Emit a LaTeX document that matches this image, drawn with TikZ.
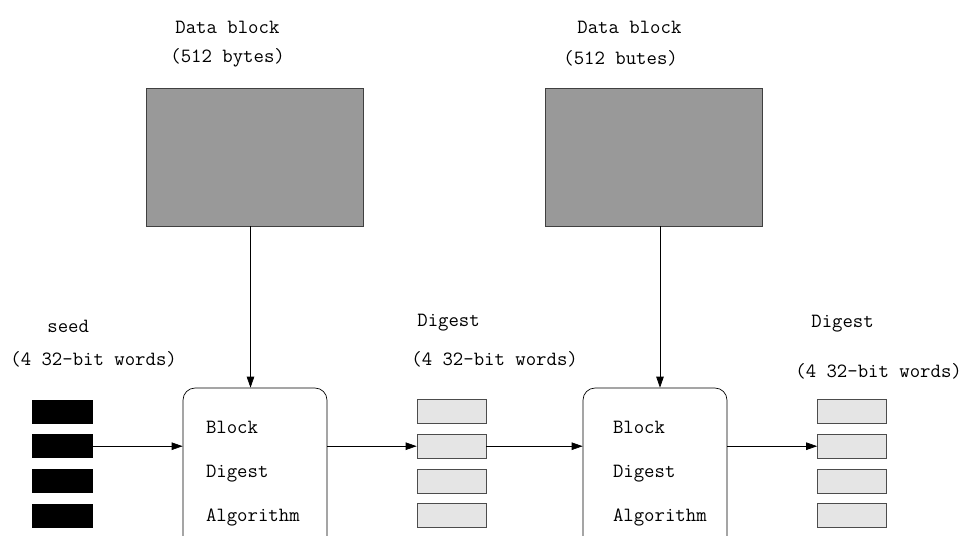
\documentclass[tikz,border=0pt]{standalone}
\usetikzlibrary{arrows.meta,positioning}
\definecolor{blockgray}{RGB}{153,153,153}
\definecolor{wordgray}{RGB}{229,229,229}
\tikzset{
 datablk/.style={rectangle,draw=black!75,fill=blockgray,minimum width=4.34cm,minimum height=2.76cm,inner sep=0},
 algo/.style={rectangle,rounded corners=0.24cm,draw=black,align=left,text width=1.96cm,inner xsep=0.46cm,inner ysep=0,minimum width=2.88cm,minimum height=3.44cm,font=\ttfamily\fontsize{11.5}{25}\selectfont},
 seedword/.style={rectangle,fill=black,minimum width=1.22cm,minimum height=0.48cm,inner sep=0},
 digword/.style={rectangle,draw=black!70,fill=wordgray,minimum width=1.38cm,minimum height=0.48cm,inner sep=0},
 lbl/.style={anchor=west,inner sep=0,font=\ttfamily\fontsize{11.5}{13}\selectfont},
 arrow/.style={-{Triangle[length=2.2mm,width=1.5mm]},draw=black}}

\begin{document}
\begin{tikzpicture}[x=0.02cm,y=-0.02cm]
\useasboundingbox (0,0) rectangle (967,535);
\clip (0,0) rectangle (967,535);
% data blocks and their captions
\node[datablk] (data1) at (254.5,157) {};
\node[datablk] (data2) at (653.5,157) {};
\node[lbl] (d1top) at (175,27) {Data block};
\node[lbl] (d1bot) at (170,58) {(512 bytes)};
\node[lbl] (d2top) at (577,27) {Data block};
\node[lbl] (d2bot) at (563,58) {(512 butes)};
% block digest algorithm boxes
\node[algo] (algo1) at (255,474) {Block\\Digest\\Algorithm};
\node[algo,inner xsep=0.6cm,text width=1.68cm] (algo2) at (655,474) {Block\\Digest\\Algorithm};
% seed and digest words
\foreach \i in {1,...,4}{
 \node[seedword] (seed\i) at (62.5,{376.8+34.7*\i}) {};
 \node[digword] (dga\i) at (451.5,{376.8+34.7*\i}) {};
 \node[digword] (dgb\i) at (852,{376.8+34.7*\i}) {};
}
\node[lbl] (seedtop) at (47,326) {seed};
\node[lbl] (seedbot) at (10,359) {(4 32-bit words)};
\node[lbl] (dgatop) at (417,323) {Digest};
\node[lbl] (dgabot) at (411,359) {(4 32-bit words)};
\node[lbl] (dgbtop) at (811,324) {Digest};
\node[lbl] (dgbbot) at (795,371) {(4 32-bit words)};
% connectors
\draw[arrow] ([xshift=-0.08cm]data1.south) -- ([xshift=-0.08cm]data1.south |- algo1.north);
\draw[arrow] ([xshift=0.13cm]data2.south) -- ([xshift=0.13cm]data2.south |- algo2.north);
\draw[arrow] (seed2.east) -- (seed2.east -| algo1.west);
\draw[arrow] (algo1.east |- dga2) -- (dga2.west);
\draw[arrow] (dga2.east) -- (dga2.east -| algo2.west);
\draw[arrow] (algo2.east |- dgb2) -- (dgb2.west);
\end{tikzpicture}
\end{document}
